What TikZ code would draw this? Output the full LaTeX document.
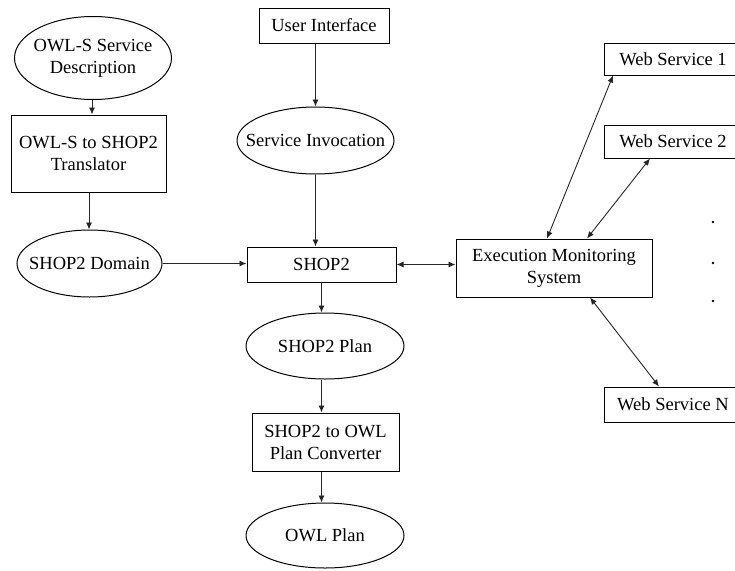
\documentclass[tikz,border=0pt]{standalone}
\usepackage{fontspec}
\setmainfont{Liberation Serif}
\usetikzlibrary{shapes.geometric,arrows.meta,calc}
\begin{document}
\begin{tikzpicture}[x=1pt,y=-1pt,
  every node/.style={font=\fontsize{18.5}{22}\selectfont, align=center, inner sep=0pt, line width=1pt},
  boxnode/.style={draw, rectangle},
  ellnode/.style={draw, ellipse, inner xsep=-18pt, inner ysep=0pt},
  conn/.style={line width=0.9pt, draw=black!85, -{Latex[length=7pt,width=6pt]}},
  biconn/.style={line width=0.9pt, draw=black!85, {Latex[length=7pt,width=6pt]}-{Latex[length=7pt,width=6pt]}}
]
\useasboundingbox (0,0) rectangle (735,570);
\clip (0,0) rectangle (735,570);
% left column
\node[ellnode, minimum width=157, minimum height=83] (desc) at (93,58) {OWL-S Service\\Description};
\node[boxnode, minimum width=155, minimum height=77] (trans) at (88.5,153.5) {OWL-S to SHOP2\\Translator};
\node[ellnode, minimum width=145, minimum height=67] (domain) at (89.5,263.5) {SHOP2 Domain};
% middle column
\node[boxnode, minimum width=130, minimum height=35] (ui) at (324,25.5) {User Interface};
\node[ellnode, minimum width=157, minimum height=67] (inv) at (315.5,140.5) {Service Invocation};
\node[boxnode, minimum width=149, minimum height=35] (shop) at (321.5,264.5) {SHOP2};
\node[ellnode, minimum width=158, minimum height=66] (plan) at (325,346) {SHOP2 Plan};
\node[boxnode, minimum width=147, minimum height=58] (conv) at (325.5,442) {SHOP2 to OWL\\Plan Converter};
\node[ellnode, minimum width=158, minimum height=65] (owl) at (325,535.5) {OWL Plan};
% right side
\node[boxnode, minimum width=196, minimum height=58] (ems) at (554,268) {Execution Monitoring\\System};
\node[boxnode, minimum width=138, minimum height=32] (ws1) at (673,59) {Web Service 1};
\node[boxnode, minimum width=138, minimum height=33] (ws2) at (673,141.5) {Web Service 2};
\node[boxnode, minimum width=138, minimum height=35] (wsn) at (673,404.5) {Web Service N};
\fill (713,222) circle (1.3);
\fill (713,263) circle (1.3);
\fill (713,301) circle (1.3);
% connectors
\draw[conn] ([xshift=-1pt]desc.south) -- ([xshift=-1pt]desc.south |- trans.north);
\draw[conn] ([xshift=0.5pt]trans.south) -- ([xshift=0.5pt]trans.south |- domain.north);
\draw[conn] (domain.east) -- (domain.east -| shop.west);
\draw[conn] (inv.north |- ui.south) -- (inv.north);
\draw[conn] (inv.south) -- (inv.south |- shop.north);
\draw[biconn] (shop.east) -- (shop.east -| ems.west);
\draw[conn] (shop.south) -- (shop.south |- plan.north);
\draw[conn] (shop.south |- plan.south) -- (shop.south |- conv.north);
\draw[conn] (shop.south |- conv.south) -- (shop.south |- owl.north);
\draw[biconn] ([xshift=-7pt]ems.north) -- ([xshift=-60pt]ws1.south);
\draw[biconn] ([xshift=33pt]ems.north) -- ([xshift=-23pt]ws2.south);
\draw[biconn] ([xshift=36pt]ems.south) -- ([xshift=-14pt]wsn.north);
\end{tikzpicture}
\end{document}
